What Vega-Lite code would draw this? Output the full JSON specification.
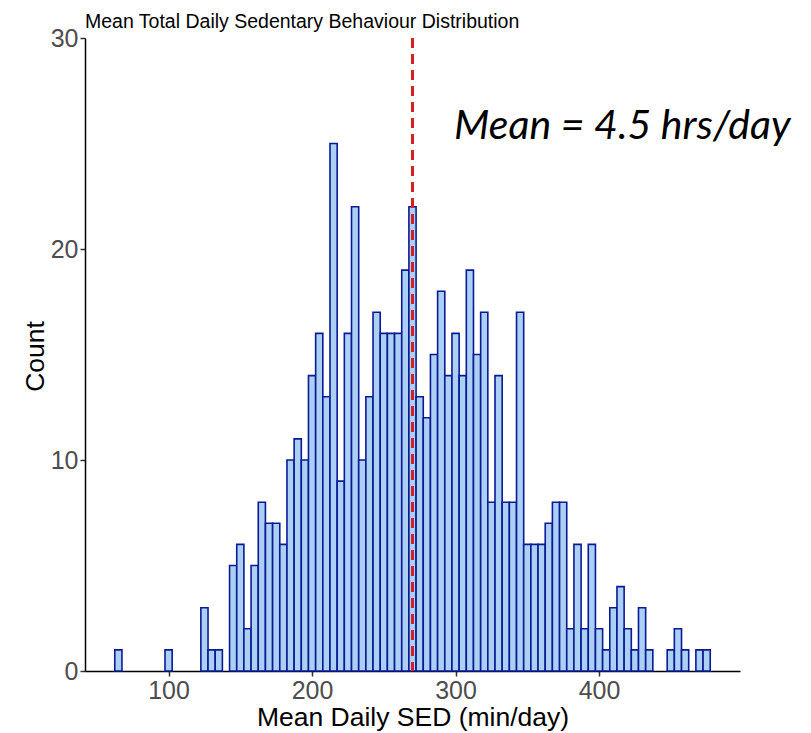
{
  "$schema": "https://vega.github.io/schema/vega-lite/v6.json",
  "autosize": {"type": "none"},
  "width": 655,
  "height": 633,
  "padding": {"left": 85, "top": 38, "right": 71, "bottom": 62},
  "background": "white",
  "title": {
    "text": "Mean Total Daily Sedentary Behaviour Distribution",
    "anchor": "start",
    "frame": "group",
    "font": "Liberation Sans",
    "fontSize": 19.5,
    "fontWeight": "normal",
    "color": "black",
    "baseline": "alphabetic",
    "offset": 0,
    "dy": 21
  },
  "datasets": {
    "bins": [
      {"bin_start": 62.5, "bin_end": 67.5, "count": 1},
      {"bin_start": 97.5, "bin_end": 102.5, "count": 1},
      {"bin_start": 122.5, "bin_end": 127.5, "count": 3},
      {"bin_start": 127.5, "bin_end": 132.5, "count": 1},
      {"bin_start": 132.5, "bin_end": 137.5, "count": 1},
      {"bin_start": 142.5, "bin_end": 147.5, "count": 5},
      {"bin_start": 147.5, "bin_end": 152.5, "count": 6},
      {"bin_start": 152.5, "bin_end": 157.5, "count": 2},
      {"bin_start": 157.5, "bin_end": 162.5, "count": 5},
      {"bin_start": 162.5, "bin_end": 167.5, "count": 8},
      {"bin_start": 167.5, "bin_end": 172.5, "count": 7},
      {"bin_start": 172.5, "bin_end": 177.5, "count": 7},
      {"bin_start": 177.5, "bin_end": 182.5, "count": 6},
      {"bin_start": 182.5, "bin_end": 187.5, "count": 10},
      {"bin_start": 187.5, "bin_end": 192.5, "count": 11},
      {"bin_start": 192.5, "bin_end": 197.5, "count": 10},
      {"bin_start": 197.5, "bin_end": 202.5, "count": 14},
      {"bin_start": 202.5, "bin_end": 207.5, "count": 16},
      {"bin_start": 207.5, "bin_end": 212.5, "count": 13},
      {"bin_start": 212.5, "bin_end": 217.5, "count": 25},
      {"bin_start": 217.5, "bin_end": 222.5, "count": 9},
      {"bin_start": 222.5, "bin_end": 227.5, "count": 16},
      {"bin_start": 227.5, "bin_end": 232.5, "count": 22},
      {"bin_start": 232.5, "bin_end": 237.5, "count": 10},
      {"bin_start": 237.5, "bin_end": 242.5, "count": 13},
      {"bin_start": 242.5, "bin_end": 247.5, "count": 17},
      {"bin_start": 247.5, "bin_end": 252.5, "count": 16},
      {"bin_start": 252.5, "bin_end": 257.5, "count": 16},
      {"bin_start": 257.5, "bin_end": 262.5, "count": 16},
      {"bin_start": 262.5, "bin_end": 267.5, "count": 19},
      {"bin_start": 267.5, "bin_end": 272.5, "count": 22},
      {"bin_start": 272.5, "bin_end": 277.5, "count": 13},
      {"bin_start": 277.5, "bin_end": 282.5, "count": 12},
      {"bin_start": 282.5, "bin_end": 287.5, "count": 15},
      {"bin_start": 287.5, "bin_end": 292.5, "count": 18},
      {"bin_start": 292.5, "bin_end": 297.5, "count": 14},
      {"bin_start": 297.5, "bin_end": 302.5, "count": 16},
      {"bin_start": 302.5, "bin_end": 307.5, "count": 14},
      {"bin_start": 307.5, "bin_end": 312.5, "count": 19},
      {"bin_start": 312.5, "bin_end": 317.5, "count": 15},
      {"bin_start": 317.5, "bin_end": 322.5, "count": 17},
      {"bin_start": 322.5, "bin_end": 327.5, "count": 8},
      {"bin_start": 327.5, "bin_end": 332.5, "count": 14},
      {"bin_start": 332.5, "bin_end": 337.5, "count": 8},
      {"bin_start": 337.5, "bin_end": 342.5, "count": 8},
      {"bin_start": 342.5, "bin_end": 347.5, "count": 17},
      {"bin_start": 347.5, "bin_end": 352.5, "count": 6},
      {"bin_start": 352.5, "bin_end": 357.5, "count": 6},
      {"bin_start": 357.5, "bin_end": 362.5, "count": 6},
      {"bin_start": 362.5, "bin_end": 367.5, "count": 7},
      {"bin_start": 367.5, "bin_end": 372.5, "count": 8},
      {"bin_start": 372.5, "bin_end": 377.5, "count": 8},
      {"bin_start": 377.5, "bin_end": 382.5, "count": 2},
      {"bin_start": 382.5, "bin_end": 387.5, "count": 6},
      {"bin_start": 387.5, "bin_end": 392.5, "count": 2},
      {"bin_start": 392.5, "bin_end": 397.5, "count": 6},
      {"bin_start": 397.5, "bin_end": 402.5, "count": 2},
      {"bin_start": 402.5, "bin_end": 407.5, "count": 1},
      {"bin_start": 407.5, "bin_end": 412.5, "count": 3},
      {"bin_start": 412.5, "bin_end": 417.5, "count": 4},
      {"bin_start": 417.5, "bin_end": 422.5, "count": 2},
      {"bin_start": 422.5, "bin_end": 427.5, "count": 1},
      {"bin_start": 427.5, "bin_end": 432.5, "count": 3},
      {"bin_start": 432.5, "bin_end": 437.5, "count": 1},
      {"bin_start": 447.5, "bin_end": 452.5, "count": 1},
      {"bin_start": 452.5, "bin_end": 457.5, "count": 2},
      {"bin_start": 457.5, "bin_end": 462.5, "count": 1},
      {"bin_start": 467.5, "bin_end": 472.5, "count": 1},
      {"bin_start": 472.5, "bin_end": 477.5, "count": 1}
    ],
    "mean": [{"mean_min": 270}]
  },
  "layer": [
    {
      "data": {"name": "bins"},
      "mark": {"type": "rect", "fill": "#abd0f4", "stroke": "#0a1a95", "strokeWidth": 1.6},
      "encoding": {
        "x": {
          "field": "bin_start",
          "type": "quantitative",
          "scale": {"domain": [41.75, 498.25], "nice": false, "zero": false},
          "title": "Mean Daily SED (min/day)",
          "axis": {"values": [100, 200, 300, 400]}
        },
        "x2": {"field": "bin_end"},
        "y": {
          "field": "count",
          "type": "quantitative",
          "scale": {"domain": [0, 30], "nice": false},
          "title": "Count",
          "axis": {
            "values": [0, 10, 20, 30],
            "titleX": -50,
            "titleY": 318,
            "titleAngle": -90,
            "titleAlign": "center",
            "titleBaseline": "middle"
          }
        },
        "y2": {"datum": 0}
      }
    },
    {
      "data": {"name": "mean"},
      "mark": {"type": "rule", "color": "#d42020", "strokeWidth": 3, "strokeDash": [10, 6]},
      "encoding": {"x": {"field": "mean_min", "type": "quantitative"}}
    },
    {
      "data": {"name": "mean"},
      "mark": {
        "type": "text",
        "font": "Lato",
        "fontStyle": "italic",
        "fontSize": 41,
        "align": "left",
        "baseline": "alphabetic",
        "color": "black",
        "text": "Mean = 4.5 hrs/day"
      },
      "encoding": {
        "x": {"datum": 299, "type": "quantitative"},
        "y": {"datum": 25.2, "type": "quantitative"}
      }
    }
  ],
  "config": {
    "view": {"stroke": null},
    "axis": {
      "grid": false,
      "labelFont": "Liberation Sans",
      "labelFontSize": 25,
      "labelColor": "#4d4d4d",
      "labelPadding": 2,
      "tickColor": "#333333",
      "tickSize": 5,
      "tickWidth": 1.5,
      "domainColor": "black",
      "domainWidth": 1.5,
      "titleFont": "Liberation Sans",
      "titleFontSize": 26.5,
      "titleFontWeight": "normal",
      "titleColor": "black"
    },
    "axisX": {"titleY": 46, "titleBaseline": "middle"}
  }
}
